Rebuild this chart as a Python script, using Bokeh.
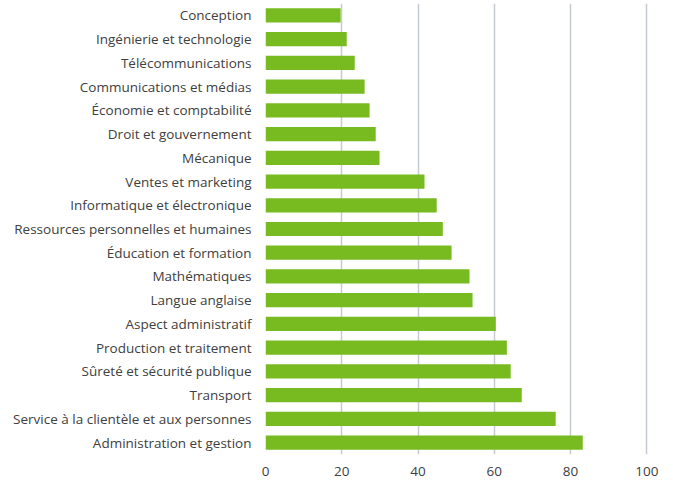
from bokeh.plotting import figure
from bokeh.models import Range1d, FixedTicker
from bokeh.embed import file_html
from bokeh.resources import INLINE

categories = [
    "Conception",
    "Ingénierie et technologie",
    "Télécommunications",
    "Communications et médias",
    "Économie et comptabilité",
    "Droit et gouvernement",
    "Mécanique",
    "Ventes et marketing",
    "Informatique et électronique",
    "Ressources personnelles et humaines",
    "Éducation et formation",
    "Mathématiques",
    "Langue anglaise",
    "Aspect administratif",
    "Production et traitement",
    "Sûreté et sécurité publique",
    "Transport",
    "Service à la clientèle et aux personnes",
    "Administration et gestion",
]
values = [19.7, 21.3, 23.4, 26.0, 27.3, 28.9, 29.9, 41.7, 44.9, 46.5, 48.8,
          53.5, 54.3, 60.4, 63.3, 64.3, 67.2, 76.1, 83.2]
x_ticks = [0, 20, 40, 60, 80, 100]

p = figure(width=673, height=481, y_range=list(reversed(categories)),
           x_range=Range1d(0, 107), output_backend="svg", toolbar_location=None,
           min_border_top=3, min_border_right=0, min_border_left=265, min_border_bottom=27)

p.hbar(y=categories, right=values, left=0, height=0.6, color="#77bb21", line_color=None)

p.outline_line_color = None
p.ygrid.grid_line_color = None
p.xgrid.grid_line_color = "#c6cad2"
p.xgrid.grid_line_width = 1.5
p.xaxis.ticker = FixedTicker(ticks=x_ticks)
for ax in (p.xaxis[0], p.yaxis[0]):
    ax.axis_line_color = None
    ax.major_tick_line_color = None
    ax.minor_tick_line_color = None
    ax.major_label_text_font = "Open Sans"
    ax.major_label_text_font_size = "13.5px"
    ax.major_label_text_color = "#404040"
p.yaxis.major_label_standoff = 8
p.xaxis.major_label_standoff = 6

open("out.html", "w").write(file_html(p, INLINE))
